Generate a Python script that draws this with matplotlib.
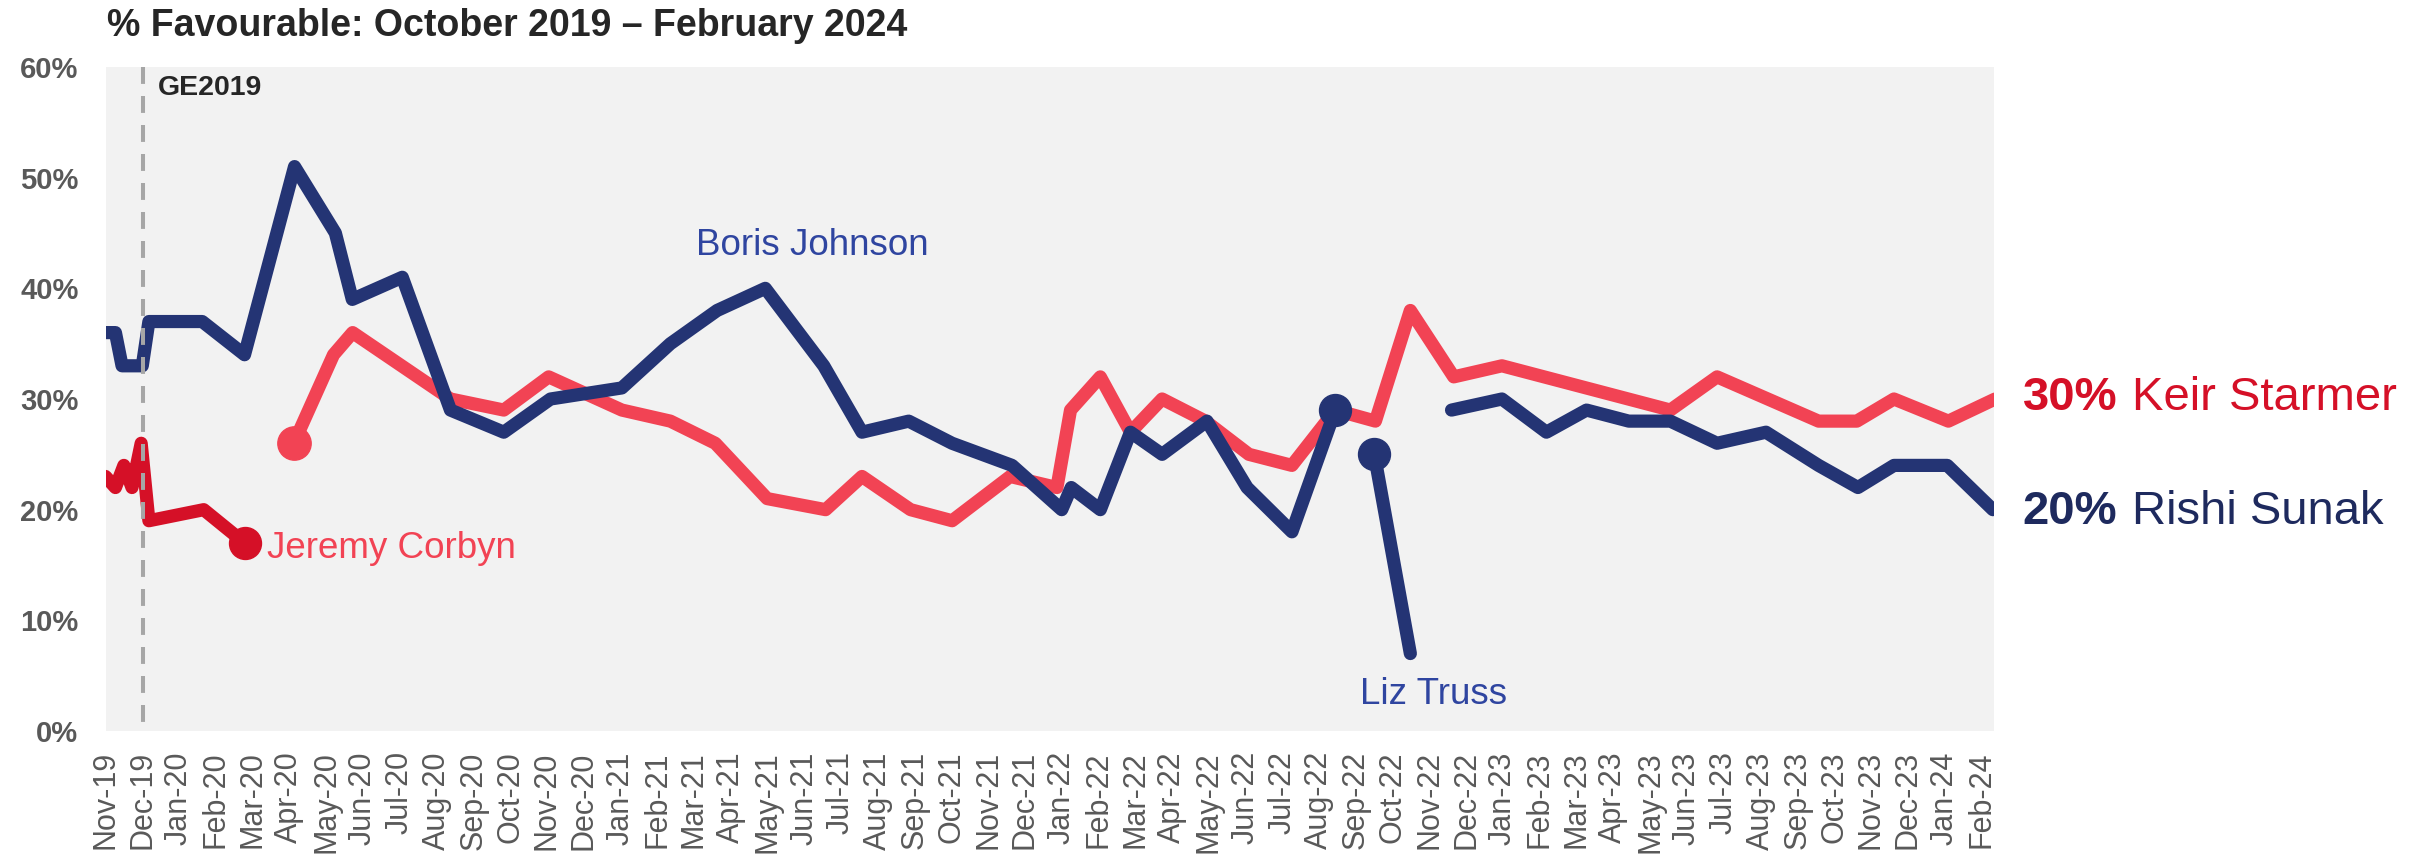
import matplotlib
matplotlib.use('Agg')
import matplotlib.pyplot as plt
import pandas as pd

plt.rcParams['font.family'] = ['Liberation Sans', 'DejaVu Sans']

# x = months since Nov-2019 (poll dates do not fall exactly on month starts)
months = list(pd.date_range('2019-11-01', '2024-02-01', freq='MS').strftime('%b-%y'))

boris_x = [0.0, 0.27, 0.45, 1.0, 1.18, 2.63, 3.78, 5.14, 6.25, 6.71, 8.07, 9.38, 10.83,
           12.1, 14.04, 15.36, 16.63, 17.94, 19.53, 20.57, 21.84, 23.02, 24.65, 26.0,
           26.26, 27.05, 27.87, 28.73, 29.95, 31.04, 32.26, 33.44]
boris_y = [36, 36, 33, 33, 37, 37, 34, 51, 45, 39, 41, 29, 27,
           30, 31, 35, 38, 40, 33, 27, 28, 26, 24, 20,
           22, 20, 27, 25, 28, 22, 18, 29]

corbyn_x = [0.0, 0.27, 0.5, 0.72, 0.97, 1.18, 2.67, 3.78]
corbyn_y = [23, 22, 24, 22, 26, 19, 20, 17]

starmer_x = [5.12, 6.2, 6.72, 9.38, 10.83, 12.05, 14.04, 15.36, 16.58, 17.99, 19.58,
             20.57, 21.89, 23.02, 24.6, 25.87, 26.24, 27.05, 27.87, 28.73, 29.91,
             31.09, 32.26, 33.44, 34.53, 35.48, 36.66, 37.97, 42.55, 43.82, 46.58,
             47.62, 48.63, 50.11, 51.38]
starmer_y = [26, 34, 36, 30, 29, 32, 29, 28, 26, 21, 20,
             23, 20, 19, 23, 22, 29, 32, 27, 30, 28,
             25, 24, 29, 28, 38, 32, 33, 29, 32, 28,
             28, 30, 28, 30]

truss_x = [34.5, 35.48]
truss_y = [25, 7]

sunak_x = [36.6, 37.97, 39.18, 40.27, 41.42, 42.55, 43.82, 45.15, 46.58, 47.65,
           48.63, 50.08, 51.32]
sunak_y = [29, 30, 27, 29, 28, 28, 26, 27, 24, 22, 24, 24, 20]

ge2019_x = 1.02

NAVY = '#243474'
RED = '#F24354'
DARKRED = '#D51027'
GREY = '#595959'

fig = plt.figure(figsize=(24.28, 8.55), dpi=100)
ax = fig.add_axes([105.5 / 2428, 1 - 731 / 855, (1994 - 105.5) / 2428, (731 - 67) / 855])
ax.set_facecolor('#F2F2F2')
for s in ax.spines.values():
    s.set_visible(False)

ax.set_xlim(0, 51.35)
ax.set_ylim(0, 60)
ax.set_yticks(range(0, 61, 10))
ax.set_yticklabels([f'{v}%' for v in range(0, 61, 10)], fontweight='bold')
ax.tick_params(axis='y', length=0, pad=19.5, labelsize=21, labelcolor=GREY)
ax.set_xticks(range(len(months)))
ax.set_xticklabels(months, rotation=90)
ax.tick_params(axis='x', length=0, pad=14.5, labelsize=22, labelcolor=GREY)

kw = dict(lw=9.5, solid_joinstyle='round', solid_capstyle='round')

ax.plot(corbyn_x, corbyn_y, color=DARKRED, zorder=3, **kw)
ax.plot(corbyn_x[-1], corbyn_y[-1], 'o', ms=23, color=DARKRED, zorder=3)

ax.plot(starmer_x, starmer_y, color=RED, zorder=3, **kw)
ax.plot(starmer_x[0], starmer_y[0], 'o', ms=24, color=RED, zorder=3)

ax.plot(boris_x, boris_y, color=NAVY, zorder=4, **kw)
ax.plot(boris_x[-1], boris_y[-1], 'o', ms=23, color=NAVY, zorder=4)

ax.plot(truss_x, truss_y, color=NAVY, zorder=4, **kw)
ax.plot(truss_x[0], truss_y[0], 'o', ms=23, color=NAVY, zorder=4)

ax.plot(sunak_x, sunak_y, color=NAVY, zorder=4, **kw)

# GE2019 marker, dashes start from the top
ax.plot([ge2019_x, ge2019_x], [60, 0], color='#A6A6A6', lw=2.9, dashes=(4.2, 3.0),
        dash_capstyle='butt', zorder=6)
ax.text(1.43, 57.45, 'GE2019', fontsize=20.5, fontweight='bold', color='#262626', va='baseline')

# name labels
ax.text(16.05, 43.0, 'Boris Johnson', fontsize=26.5, color='#2F45A0', va='baseline')
ax.text(4.38, 15.6, 'Jeremy Corbyn', fontsize=26.5, color=RED, va='baseline')
ax.text(34.11, 2.45, 'Liz Truss', fontsize=26.5, color='#2F45A0', va='baseline')

# end labels on the right
t1 = ax.text(52.13, 29.0, f'{starmer_y[-1]}%', fontsize=34, fontweight='bold',
             color=DARKRED, va='baseline', clip_on=False)
ax.annotate('Keir Starmer', xy=(1, 0), xycoords=t1, xytext=(15, 0), textcoords='offset pixels',
            fontsize=34, color=DARKRED, va='bottom', annotation_clip=False)
t2 = ax.text(52.13, 18.7, f'{sunak_y[-1]}%', fontsize=34, fontweight='bold',
             color='#1E2A5E', va='baseline', clip_on=False)
ax.annotate('Rishi Sunak', xy=(1, 0), xycoords=t2, xytext=(15, 0), textcoords='offset pixels',
            fontsize=34, color='#1E2A5E', va='bottom', annotation_clip=False)

fig.text(107 / 2428, 1 - 36 / 855, '% Favourable: October 2019 \u2013 February 2024',
         fontsize=27, fontweight='bold', color='#262626', va='baseline')

fig.savefig('out.png', dpi=100)
